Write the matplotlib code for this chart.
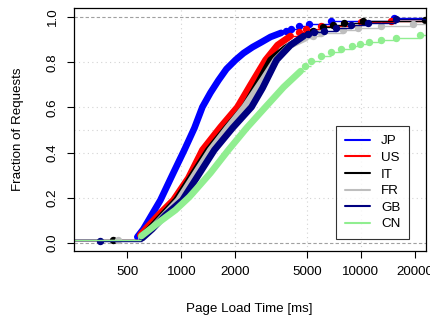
"""
ECDF of page load time per country
"""

import matplotlib
matplotlib.use('Agg')
import matplotlib.pyplot as plt
from matplotlib.ticker import FixedLocator, NullLocator

plt.rcParams['font.family'] = ['Liberation Sans', 'DejaVu Sans']

# series: dense part (drawn as thick band), sparse tail dots
# and the few isolated low dots
countries = ['JP', 'US', 'IT', 'FR', 'GB', 'CN']
colors = ['#0000FF', '#FF0000', '#000000', '#BEBEBE', '#000080', '#90EE90']

left_level = 0.012  # level of the first step, running in from the left edge

low_t = {'JP': [], 'US': [], 'IT': [417], 'FR': [445], 'GB': [353], 'CN': []}
low_f = {'JP': [], 'US': [], 'IT': [0.013], 'FR': [0.013], 'GB': [0.010], 'CN': []}

dense_t = {
    'JP': [568, 614, 764, 890, 1039, 1182, 1310, 1452, 1609, 1783, 2003, 2218,
           2494, 2797, 3141, 3600],
    'US': [590, 646, 744, 902, 1094, 1310, 1651, 2055, 2430, 2945, 3437, 4063],
    'IT': [598, 671, 937, 1152, 1415, 1783, 2249, 2692, 3141, 3809, 4506],
    'FR': [598, 679, 962, 1182, 1452, 1806, 2249, 2835, 3350, 4063, 4931],
    'GB': [605, 688, 815, 1013, 1244, 1528, 1928, 2461, 2835, 3393, 4063, 4808],
    'CN': [598, 764, 926, 1108, 1452, 1830, 2309, 2945, 3714, 4624],
}
dense_f = {
    'JP': [0.027, 0.062, 0.19, 0.301, 0.412, 0.509, 0.602, 0.665, 0.72, 0.77,
           0.81, 0.84, 0.867, 0.889, 0.912, 0.93],
    'US': [0.035, 0.071, 0.124, 0.19, 0.288, 0.412, 0.513, 0.602, 0.70, 0.81,
           0.876, 0.916],
    'IT': [0.027, 0.066, 0.19, 0.301, 0.412, 0.509, 0.602, 0.712, 0.81, 0.863,
           0.898],
    'FR': [0.022, 0.062, 0.19, 0.301, 0.412, 0.509, 0.602, 0.721, 0.81, 0.876,
           0.907],
    'GB': [0.022, 0.062, 0.124, 0.19, 0.301, 0.412, 0.509, 0.602, 0.686, 0.81,
           0.876, 0.916],
    'CN': [0.031, 0.097, 0.146, 0.204, 0.31, 0.412, 0.509, 0.602, 0.69, 0.761],
}

tail_t = {
    'JP': [3850, 4063, 4506, 5122, 6796, 15290],
    'US': [4500, 4931, 5978, 10000, 14710],
    'IT': [4780, 5058, 5395, 6134, 6975, 8038, 10260, 22900],
    'FR': [5400, 5978, 7934, 9615, 12930, 19520],
    'GB': [5100, 5464, 6213, 7250, 8793, 10940, 15690],
    'CN': [4900, 5257, 5978, 6796, 7731, 8906, 9869, 11080, 12930, 15690, 21370],
}
tail_f = {
    'JP': [0.94, 0.947, 0.96, 0.969, 0.982, 0.996],
    'US': [0.933, 0.947, 0.96, 0.978, 0.982],
    'IT': [0.912, 0.925, 0.938, 0.956, 0.965, 0.973, 0.982, 0.987],
    'FR': [0.918, 0.929, 0.942, 0.951, 0.96, 0.969],
    'GB': [0.926, 0.934, 0.938, 0.951, 0.965, 0.973, 0.991],
    'CN': [0.785, 0.805, 0.827, 0.845, 0.858, 0.872, 0.881, 0.889, 0.898, 0.907,
           0.92],
}

x_ticks = [500, 1000, 2000, 5000, 10000, 20000]
x_grid = [1000, 2000, 5000, 10000]
y_ticks = [0.0, 0.2, 0.4, 0.6, 0.8, 1.0]
y_grid = [0.2, 0.4, 0.5, 0.6, 0.8]

XMIN, XMAX = 252, 23100
YMIN, YMAX = -0.035, 1.04

fig = plt.figure(figsize=(4.31, 3.2), dpi=100)
ax = fig.add_axes([74 / 431, 1 - 251 / 320, 352 / 431, 243 / 320])
ax.set_xscale('log')

for xv in x_grid:
  ax.axvline(xv, color='#D3D3D3', linestyle=(0, (1, 3)), linewidth=0.8, zorder=0)
for yv in y_grid:
  ax.axhline(yv, color='#D3D3D3', linestyle=(0, (1, 3)), linewidth=0.8, zorder=0)
for yv in (0.0, 1.0):
  ax.axhline(yv, color='#A0A0A0', linestyle=(0, (3, 2)), linewidth=0.8, zorder=0)

for name, col in zip(countries, colors):
  d_t, d_f = dense_t[name], dense_f[name]
  # ecdf drawn without verticals: horizontal pieces between the steps
  xs = [XMIN] + low_t[name] + [d_t[0]]
  ys = [left_level] + low_f[name]
  ax.hlines(ys, xs[:-1], xs[1:], color=col, linewidth=1.0)
  xs = [d_t[-1]] + tail_t[name] + [XMAX * 1.2]
  ys = [d_f[-1]] + tail_f[name]
  ax.hlines(ys, xs[:-1], xs[1:], color=col, linewidth=1.0)
  ax.plot(d_t, d_f, color=col, linewidth=4.8,
          solid_capstyle='round', solid_joinstyle='round', label=name)
  ax.plot(low_t[name] + tail_t[name], low_f[name] + tail_f[name],
          linestyle='none', marker='o', markersize=4.3, color=col)

ax.set_xlim(XMIN, XMAX)
ax.set_ylim(YMIN, YMAX)

ax.xaxis.set_major_locator(FixedLocator(x_ticks))
ax.xaxis.set_minor_locator(NullLocator())
ax.set_xticklabels([str(v) for v in x_ticks])
ax.set_yticks(y_ticks)
ax.set_yticklabels(['%.1f' % v for v in y_ticks], rotation=90, va='center')
ax.tick_params(axis='both', labelsize=9.6, length=5, width=0.8, pad=6,
               direction='out')

for sp in ax.spines.values():
  sp.set_linewidth(0.9)

ax.set_xlabel('Page Load Time [ms]', fontsize=9.6)
ax.set_ylabel('Fraction of Requests', fontsize=9.6)
ax.xaxis.set_label_coords(0.497, -0.24)
ax.xaxis.label.set_va('center')
ax.yaxis.set_label_coords(-0.159, 0.5)
ax.yaxis.label.set_va('center')

leg = ax.legend(loc='lower right', bbox_to_anchor=(0.952, 0.049),
                fontsize=9.6, frameon=True, fancybox=False, shadow=False,
                handlelength=1.9, handletextpad=0.8, labelspacing=0.32,
                borderpad=0.65, borderaxespad=0.0)
leg.get_frame().set_edgecolor('black')
leg.get_frame().set_linewidth(0.8)
for line in leg.get_lines():
  line.set_linewidth(1.5)

plt.savefig('out.png', dpi=100)
